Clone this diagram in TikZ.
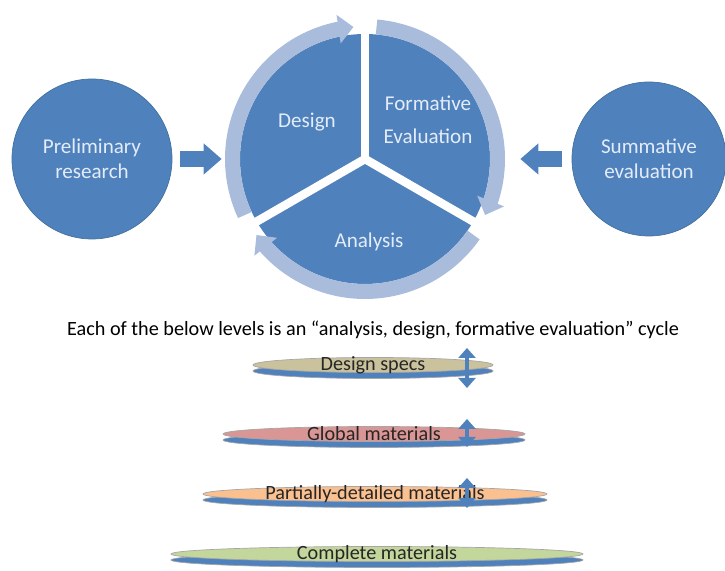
\documentclass[tikz,border=0pt]{standalone}
\usepackage{fontspec}
\setmainfont{Carlito}
\usetikzlibrary{arrows.meta, bending, shapes.geometric}

\definecolor{cycblue}{HTML}{4F81BD}
\definecolor{cycedge}{HTML}{41719C}
\definecolor{ringblue}{HTML}{A9BCDC}
\definecolor{lighttext}{HTML}{E3ECF8}
\definecolor{specfill}{HTML}{C9C29C}
\definecolor{globfill}{HTML}{D99694}
\definecolor{partfill}{HTML}{FAC090}
\definecolor{compfill}{HTML}{C3D69B}

\begin{document}
\begin{tikzpicture}[
        x=0.2mm, y=0.2mm,
        bigcirc/.style={circle, draw=cycedge, fill=cycblue, text=lighttext, align=center,
            inner sep=0pt, font=\fontsize{12}{14}\selectfont},
        sectortext/.style={text=lighttext, align=center, font=\fontsize{12}{18.5}\selectfont},
        ring/.style={draw=ringblue, line width=3mm, -{Triangle[length=3mm, width=5.6mm]}},
        gap/.style={draw=white, line width=1.7mm},
        fatarrow/.style={draw=cycblue, line width=3.2mm, -{Triangle[length=3.6mm, width=6mm]}},
        discbase/.style={draw=gray!70, fill=cycblue, thin},
        disctop/.style={draw=gray!70, thin},
        disclabel/.style={text=black!85, font=\fontsize{11.5}{13}\selectfont},
        levelarrow/.style={draw=cycblue, line width=0.7mm,
            {Triangle[length=2mm, width=3.4mm]}-{Triangle[length=2mm, width=3.4mm]}},
        every node/.style={font=\fontsize{11.5}{13}\selectfont}
    ]
        \useasboundingbox (0,0) rectangle (725,571);

        \node[bigcirc, minimum size=32mm] (prelim) at (92,412) {Preliminary\\research};
        \node[bigcirc, minimum size=30.8mm] (summ) at (649,412) {Summative\\evaluation};
        \node[circle, inner sep=0pt, minimum size=56mm] (cyc) at (365,412) {};

        \begin{scope}[shift={(365,412)}]
            \fill[cycblue] (0,0) circle[radius=125];
            \draw[ring] (205:132.5) arc[start angle=205, end angle=95, radius=132.5];
            \draw[ring] (85:132.5) arc[start angle=85, end angle=-25, radius=132.5];
            \draw[ring] (-35:132.5) arc[start angle=-35, end angle=-145, radius=132.5];
            \draw[gap] (0,0) -- (90:150);
            \draw[gap] (0,0) -- (210:150);
            \draw[gap] (0,0) -- (330:150);
            \node[sectortext] (design) at (-58,37) {Design};
            \node[sectortext] (formeval) at (63,39) {Formative\\Evaluation};
            \node[sectortext] (analysis) at (4,-83) {Analysis};
        \end{scope}

        \draw[fatarrow, shorten <=1.6mm, shorten >=0.6mm] (prelim) -- (cyc);
        \draw[fatarrow, shorten <=2mm, shorten >=3mm] (summ) -- (cyc);

        \node (note) at (373,241) {Each of the below levels is an “analysis, design, formative evaluation” cycle};

        \draw[discbase] (373,200) ellipse[x radius=120, y radius=7.5];
        \draw[disctop, fill=specfill] (373,206) ellipse[x radius=120, y radius=7.5];
        \node[disclabel] (spec) at (373,206) {Design specs};

        \draw[discbase] (374,131) ellipse[x radius=151, y radius=7.5];
        \draw[disctop, fill=globfill] (374,137) ellipse[x radius=151, y radius=7.5];
        \node[disclabel] (glob) at (374,137) {Global materials};

        \draw[discbase] (375,71) ellipse[x radius=172, y radius=7.5];
        \draw[disctop, fill=partfill] (375,77) ellipse[x radius=172, y radius=7.5];
        \node[disclabel] (part) at (375,77) {Partially-detailed materials};

        \draw[discbase] (377,11) ellipse[x radius=206, y radius=7.5];
        \draw[disctop, fill=compfill] (377,17) ellipse[x radius=206, y radius=7.5];
        \node[disclabel] (comp) at (377,17) {Complete materials};

        \coordinate (spectop) at (467,223);
        \coordinate (specbot) at (467,183);
        \coordinate (globtop) at (467,152);
        \coordinate (globbot) at (467,124);
        \coordinate (parttop) at (467,93);
        \coordinate (partbot) at (467,63);
        \draw[levelarrow] (spectop) -- (specbot);
        \draw[levelarrow] (globtop) -- (globbot);
        \draw[levelarrow] (parttop) -- (partbot);
    \end{tikzpicture}
\end{document}
